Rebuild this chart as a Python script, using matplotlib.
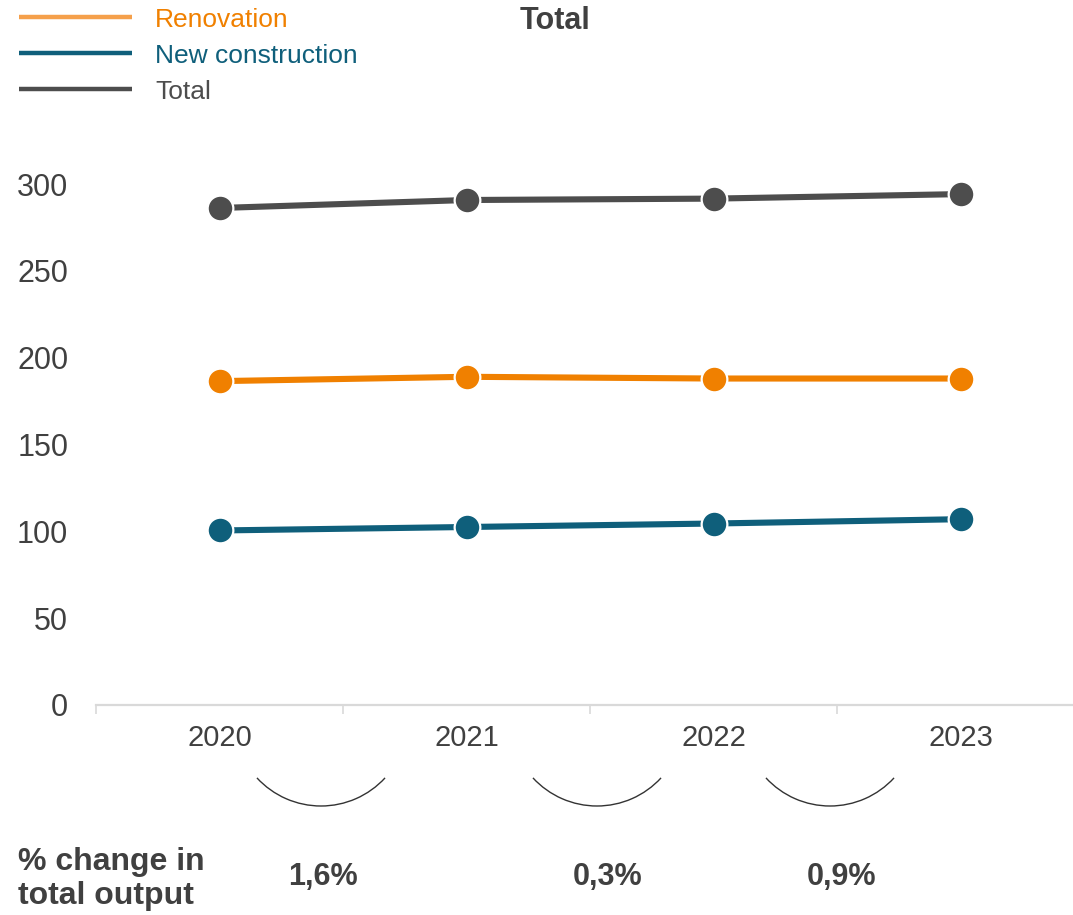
import matplotlib
matplotlib.use("Agg")
import matplotlib.pyplot as plt
from matplotlib.lines import Line2D
from matplotlib.patches import Arc

plt.rcParams['font.family'] = ['Liberation Sans', 'DejaVu Sans']

# Output values (index), by year
years = ["2020", "2021", "2022", "2023"]
renovation = [186.5, 189.0, 188.0, 188.0]
new_construction = [100.5, 102.5, 104.5, 107.0]
total = [286.2, 290.8, 291.6, 294.2]
pct_change = ["1,6%", "0,3%", "0,9%"]
y_ticks = [0, 50, 100, 150, 200, 250, 300]

ORANGE = "#F08000"
ORANGE_LIGHT = "#F5A04B"
TEAL = "#0F5F7B"
GRAY = "#4D4D4D"
TEXT = "#404040"

W, H = 1073, 915
fig = plt.figure(figsize=(W / 100, H / 100), dpi=100)

# main plot area (pixel geometry converted to figure fractions)
x_left, x_right = 96, 1084
y_zero, y_top = 705, 149.3
ax = fig.add_axes([x_left / W, 1 - y_zero / H, (x_right - x_left) / W, (y_zero - y_top) / H])
ax.set_xlim(-0.5, 3.5)
ax.set_ylim(0, 320)

xs = list(range(len(years)))
for vals, col in [(total, GRAY), (renovation, ORANGE), (new_construction, TEAL)]:
    ax.plot(xs, vals, color=col, lw=4.4, solid_capstyle='butt', zorder=2, clip_on=False)
    ax.plot(xs, vals, ls='none', marker='o', ms=18.5, mfc=col, mec='white', mew=1.6,
            zorder=3, clip_on=False)

for side in ['top', 'right', 'left']:
    ax.spines[side].set_visible(False)
ax.spines['bottom'].set_color('#D9D9D9')
ax.spines['bottom'].set_linewidth(1.6)

ax.set_yticks(y_ticks)
ax.set_yticklabels([str(v) for v in y_ticks], fontsize=22, color=TEXT)
ax.tick_params(axis='y', length=0, pad=20)

ax.set_xticks(xs)
ax.set_xticklabels(years, fontsize=21, color=TEXT)
ax.tick_params(axis='x', which='major', length=0, pad=14)
ax.set_xticks([-0.5, 0.5, 1.5, 2.5], minor=True)
ax.tick_params(axis='x', which='minor', length=6.5, width=1.2, color='#D9D9D9', direction='out')

# overlay in pixel coordinates for legend, title and change annotations
ov = fig.add_axes([0, 0, 1, 1], facecolor='none')
ov.set_xlim(0, W)
ov.set_ylim(H, 0)
ov.axis('off')

legend_items = [("Renovation", ORANGE_LIGHT, ORANGE, 17),
                ("New construction", TEAL, TEAL, 53),
                ("Total", GRAY, GRAY, 89)]
for label, lc, tc, yy in legend_items:
    ov.add_line(Line2D([19, 132], [yy, yy], color=lc, lw=3.2, solid_capstyle='butt'))
    ov.text(155, yy + 3, label, fontsize=19, color=tc, va='center', ha='left')

ov.text(555, 21, "Total", fontsize=22, fontweight='bold', color=TEXT, ha='center', va='center')

arc_centers = [321, 597, 830]
label_centers = [323, 608, 841]
r = 87
for cx, lx, lab in zip(arc_centers, label_centers, pct_change):
    ov.add_patch(Arc((cx, 806 - r), 2 * r, 2 * r, theta1=42.6, theta2=137.4,
                     color='#333333', lw=1.0))
    ov.text(lx, 877, lab, fontsize=22, fontweight='bold', color=TEXT,
            ha='center', va='center')

ov.text(18, 879, "% change in\ntotal output", fontsize=23, fontweight='bold', color=TEXT,
        ha='left', va='center', linespacing=1.15)

fig.savefig("out.png", dpi=100)
